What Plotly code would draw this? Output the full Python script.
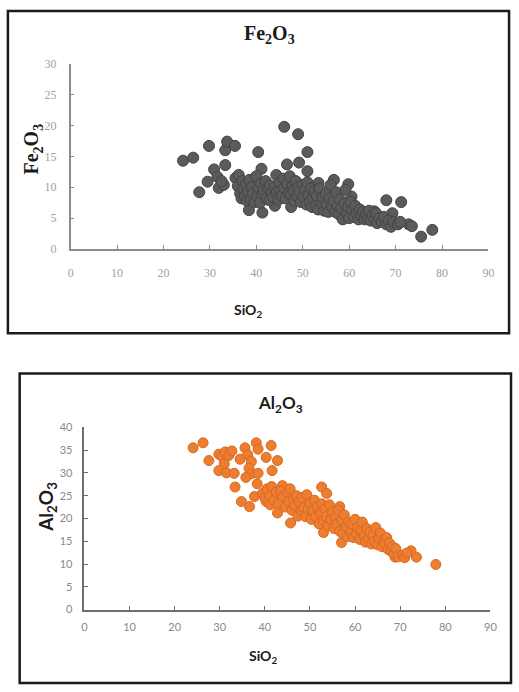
import plotly.graph_objects as go

# ---------------- data ----------------
fe_sio2 = [24.2, 26.4, 27.7, 29.8, 29.5, 30.9, 31.6, 31.9, 33.3, 33.3, 33.7, 35.4, 33.0, 32.5,
           40.4, 41.1, 38.4, 41.3, 44.3, 46.0, 49.0, 46.6, 49.2, 51.0, 51.0, 53.4, 56.7, 59.8,
           60.5, 68.0, 71.2, 69.3, 65.4, 72.8, 73.5, 75.5, 77.9, 70.0, 44.0, 47.5,
           35.5, 36.0, 36.2, 36.5, 36.8, 37.0, 37.2, 37.5, 37.8, 38.0, 38.2, 38.5, 38.8, 39.0,
           39.3, 39.6, 40.0, 40.2, 40.5, 40.8, 41.0, 41.3, 41.6, 42.0, 42.2, 42.5, 42.8, 43.0,
           43.3, 43.6, 44.0, 44.4, 44.8, 45.0, 45.2, 45.5, 45.8, 46.0, 46.3, 46.6, 47.0, 47.2,
           47.5, 47.8, 48.0, 48.2, 48.5, 48.8, 49.0, 49.3, 49.6, 50.0, 50.2, 50.5, 50.8, 51.0,
           51.2, 51.5, 51.8, 52.0, 52.2, 52.5, 52.8, 53.0, 53.3, 53.6, 54.0, 54.3, 54.6, 55.0,
           55.2, 55.5, 55.8, 56.0, 56.3, 56.6, 57.0, 57.2, 57.5, 57.8, 58.0, 58.3, 58.6, 59.0,
           59.2, 59.5, 59.8, 60.0, 60.3, 60.6, 61.0, 61.3, 61.6, 62.0, 62.3, 62.6, 63.0, 63.3,
           63.6, 64.0, 64.3, 64.6, 65.0, 65.5, 65.8, 66.0, 66.5, 67.0, 67.5, 68.0, 68.5, 69.0,
           69.5, 70.5, 71.0]
fe2o3 = [14.3, 14.8, 9.2, 16.7, 10.9, 12.9, 11.7, 9.9, 13.6, 16.0, 17.4, 16.7, 10.4, 11.0,
         15.7, 13.0, 6.3, 5.9, 12.0, 19.8, 18.6, 13.7, 14.0, 15.7, 12.6, 10.7, 11.2, 10.5,
         8.5, 7.9, 7.6, 5.8, 6.1, 4.0, 3.7, 2.0, 3.1, 4.1, 7.0, 6.8,
         11.5, 10.2, 12.0, 9.0, 8.2, 11.0, 9.8, 8.5, 10.5, 7.8, 9.3, 11.2, 8.0, 10.0,
         9.0, 7.6, 11.8, 8.6, 9.8, 7.5, 10.6, 8.9, 9.5, 11.0, 8.2, 9.9, 7.9, 10.3,
         9.0, 8.4, 10.0, 9.2, 8.0, 10.8, 9.4, 8.6, 11.4, 9.9, 8.2, 10.6, 9.0, 11.8,
         8.8, 10.2, 9.4, 7.8, 11.0, 8.6, 10.0, 9.2, 7.6, 10.4, 8.4, 9.6, 7.2, 10.8,
         8.8, 7.6, 9.8, 6.8, 8.2, 9.4, 7.0, 8.6, 6.4, 9.8, 7.4, 8.4, 6.2, 9.0,
         7.2, 6.0, 8.2, 10.4, 6.8, 7.8, 6.0, 9.2, 7.0, 5.6, 8.0, 6.6, 4.8, 7.4,
         9.6, 5.8, 6.8, 5.0, 7.6, 6.2, 5.2, 7.0, 5.8, 4.8, 6.4, 5.4, 6.0, 4.8,
         5.6, 5.0, 6.2, 4.6, 5.4, 4.8, 5.8, 4.2, 5.0, 4.4, 5.2, 4.0, 4.6, 3.6,
         4.4, 4.0, 4.4]

al_sio2 = [24.1, 26.3, 27.6, 29.8, 30.5, 31.2, 32.0, 32.7, 31.0, 29.8, 31.5, 33.4, 33.2, 34.8,
           36.6, 35.6, 36.2, 37.0, 36.5, 38.1, 38.5, 37.0, 38.3, 38.5, 40.3, 41.4, 42.8, 41.6,
           37.7, 40.3, 42.8, 43.9, 45.7, 52.6, 53.7, 53.0, 57.0, 56.6, 77.9, 73.6, 72.4, 68.9,
           70.0, 35.8, 34.5,
           39.5, 40.0, 40.5, 41.0, 41.2, 41.5, 42.0, 42.5, 43.0, 43.5, 44.0, 44.5, 45.0, 45.3,
           45.6, 46.0, 46.3, 46.6, 47.0, 47.3, 47.6, 48.0, 48.3, 48.6, 49.0, 49.3, 49.6, 50.0,
           50.3, 50.6, 51.0, 51.3, 51.6, 52.0, 52.3, 52.6, 53.0, 53.3, 53.6, 54.0, 54.3, 54.6,
           55.0, 55.3, 55.6, 56.0, 56.3, 56.6, 57.0, 57.3, 57.6, 58.0, 58.3, 58.6, 59.0, 59.3,
           59.6, 60.0, 60.3, 60.6, 61.0, 61.3, 61.6, 62.0, 62.3, 62.6, 63.0, 63.3, 63.6, 64.0,
           64.3, 64.6, 65.0, 65.3, 65.6, 66.0, 66.3, 66.6, 67.0, 67.3, 67.6, 68.0, 68.3, 68.6,
           69.0, 69.5, 70.5, 71.0, 71.5]
al2o3 = [35.5, 36.6, 32.7, 34.1, 33.6, 34.6, 33.8, 34.8, 32.0, 30.5, 30.0, 26.9, 29.9, 23.7,
         22.6, 35.5, 34.0, 32.5, 31.0, 36.6, 35.2, 29.8, 27.6, 29.9, 33.4, 36.0, 32.7, 30.5,
         24.8, 23.7, 21.2, 27.2, 19.0, 26.9, 25.5, 16.9, 14.7, 22.6, 9.9, 11.5, 12.9, 11.5,
         11.8, 29.0, 33.0,
         25.5, 24.5, 26.5, 25.0, 23.0, 27.0, 24.0, 25.8, 23.2, 26.0, 24.8, 22.5, 25.6, 23.8,
         26.5, 21.8, 24.2, 22.8, 25.0, 20.5, 23.6, 21.8, 24.6, 22.4, 20.4, 25.2, 22.0, 23.4,
         19.8, 21.6, 24.0, 20.4, 22.6, 18.8, 21.2, 23.2, 19.6, 22.0, 20.4, 18.4, 23.0, 19.8,
         21.4, 17.8, 20.2, 18.8, 21.8, 17.2, 19.6, 16.6, 20.8, 18.2, 16.0, 19.2, 17.0, 18.8,
         15.8, 19.8, 16.6, 18.0, 15.4, 17.4, 19.2, 16.2, 14.8, 17.8, 15.6, 17.0, 14.4, 16.4,
         15.0, 18.0, 14.2, 15.6, 16.8, 13.8, 15.2, 14.4, 15.8, 13.2, 14.6, 12.8, 13.8, 12.2,
         13.4, 11.6, 12.0, 11.4, 12.4]

x_ticks = [0, 10, 20, 30, 40, 50, 60, 70, 80, 90]
fe_ticks = [0, 5, 10, 15, 20, 25, 30]
al_ticks = [0, 5, 10, 15, 20, 25, 30, 35, 40]

W, H = 519, 692
def px(x): return x / W
def py(y): return 1 - y / H

fig = go.Figure()
fig.add_trace(go.Scatter(x=fe_sio2, y=fe2o3, mode="markers", xaxis="x", yaxis="y",
                         marker=dict(size=11, color="#5b5b5b", line=dict(color="#444444", width=1)),
                         showlegend=False))
fig.add_trace(go.Scatter(x=al_sio2, y=al2o3, mode="markers", xaxis="x2", yaxis="y2",
                         marker=dict(size=10, color="#ED7D31", line=dict(color="#d8691f", width=1)),
                         showlegend=False))

serif_tick = dict(family="Liberation Serif", size=12, color="#a0a0a0")
sans_tick = dict(family="Lato", size=11, color="#8a8a8a")

axis_common = dict(showgrid=False, zeroline=False, showline=True, ticks="inside", ticklen=4,
                   tickwidth=1)

def ann(text, x, y, font, angle=0):
    return dict(text=text, x=px(x), y=py(y), xref="paper", yref="paper", showarrow=False,
                xanchor="center", yanchor="middle", textangle=angle, font=font)

fig.update_layout(
    width=W, height=H, margin=dict(l=0, r=0, t=0, b=0),
    paper_bgcolor="white", plot_bgcolor="white",
    xaxis=dict(domain=[px(69), px(495)], range=[0, 90], tickvals=x_ticks, anchor="y",
               linecolor="#8c8c8c", linewidth=1.5, tickcolor="#8c8c8c",
               tickfont=serif_tick, ticklabelstandoff=12, **axis_common),
    yaxis=dict(domain=[py(247), py(58)], range=[0, 30], tickvals=fe_ticks, anchor="x",
               linecolor="#8c8c8c", linewidth=1.5, tickcolor="#8c8c8c",
               tickfont=serif_tick, ticklabelstandoff=10, **axis_common),
    xaxis2=dict(domain=[px(83), px(497)], range=[0, 90], tickvals=x_ticks, anchor="y2",
                linecolor="#6e6e6e", linewidth=1.5, tickcolor="#6e6e6e",
                tickfont=sans_tick, ticklabelstandoff=6, **axis_common),
    yaxis2=dict(domain=[py(615), py(429)], range=[0, 40], tickvals=al_ticks, anchor="x2",
                linecolor="#6e6e6e", linewidth=1.5, tickcolor="#6e6e6e",
                tickfont=sans_tick, ticklabelstandoff=8, **axis_common),
    shapes=[
        dict(type="rect", xref="paper", yref="paper", x0=px(5), x1=px(516), y0=py(333), y1=py(4),
             line=dict(color="#1a1a1a", width=2.5)),
        dict(type="rect", xref="paper", yref="paper", x0=px(17), x1=px(518), y0=py(690), y1=py(374),
             line=dict(color="#1a1a1a", width=2.5)),
    ],
    annotations=[
        ann("<b>Fe<sub>2</sub>O<sub>3</sub></b>", 272, 28,
            dict(family="Liberation Serif", size=20, color="#1a1a1a")),
        ann("<b>Fe<sub>2</sub>O<sub>3</sub></b>", 30, 145,
            dict(family="Liberation Serif", size=20, color="#1a1a1a"), -90),
        ann("<b>SiO<sub>2</sub></b>", 250, 310, dict(family="Lato", size=14, color="#1a1a1a")),
        ann("<b>Al<sub>2</sub>O<sub>3</sub></b>", 283, 405, dict(family="Lato", size=17, color="#1a1a1a")),
        ann("<b>Al<sub>2</sub>O<sub>3</sub></b>", 45, 510,
            dict(family="Lato", size=19, color="#1a1a1a"), -90),
        ann("<b>SiO<sub>2</sub></b>", 265, 663, dict(family="Lato", size=14, color="#1a1a1a")),
    ],
)

fig.write_html("out.html")
